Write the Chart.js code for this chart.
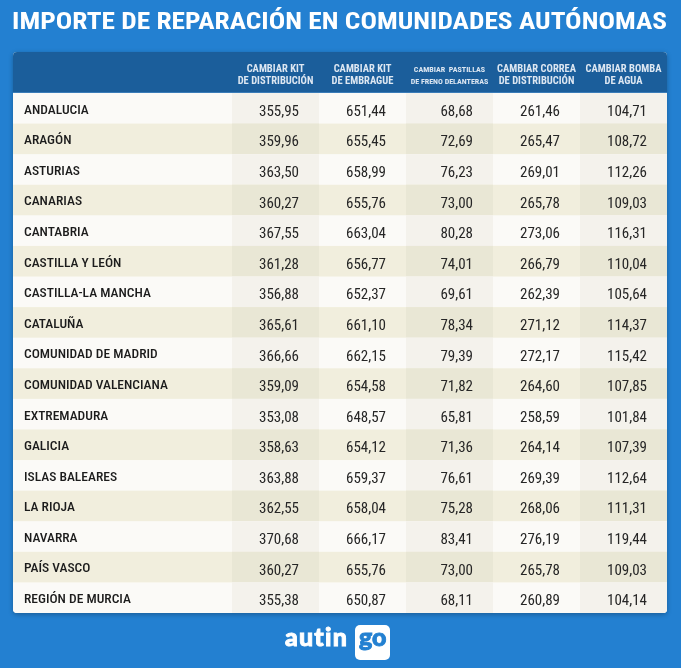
<!DOCTYPE html>
<html>
<head>
<meta charset="utf-8">
<script src="https://cdn.jsdelivr.net/npm/chart.js@4.4.1/dist/chart.umd.min.js"></script>
<style>
html,body{margin:0;padding:0;width:681px;height:668px;overflow:hidden;background:#2380d1;}
#title{position:absolute;left:12px;top:9.5px;font-family:'Roboto Condensed',Roboto,sans-serif;font-weight:700;font-size:23.5px;line-height:23.5px;color:#fff;white-space:nowrap;transform-origin:0 0;}
#c{position:absolute;left:0;top:0;}
#autin{position:absolute;left:285px;top:624px;font-family:'Lato Black',Lato,sans-serif;font-weight:900;font-size:25px;line-height:25px;letter-spacing:1.2px;color:#fff;white-space:nowrap;-webkit-text-stroke:0.9px #fff;}
#gobox{position:absolute;left:355px;top:625px;width:35px;height:35px;background:#fff;border-radius:5px;}
#go{position:absolute;left:4px;top:-1px;font-family:'Lato Black',Lato,sans-serif;font-weight:900;font-size:25px;line-height:25px;color:#2380d1;white-space:nowrap;-webkit-text-stroke:0.9px #2380d1;}
</style>
</head>
<body>
<canvas id="c" width="681" height="668"></canvas>
<div id="title">IMPORTE DE REPARACIÓN EN COMUNIDADES AUTÓNOMAS</div>
<div id="autin">autin</div>
<div id="gobox"><span id="go">go</span></div>
<script>
// ---- data ----
const regions = ['ANDALUCIA','ARAGÓN','ASTURIAS','CANARIAS','CANTABRIA','CASTILLA Y LEÓN','CASTILLA-LA MANCHA','CATALUÑA','COMUNIDAD DE MADRID','COMUNIDAD VALENCIANA','EXTREMADURA','GALICIA','ISLAS BALEARES','LA RIOJA','NAVARRA','PAÍS VASCO','REGIÓN DE MURCIA'];
const columnHeaders = [
  ['CAMBIAR KIT','DE DISTRIBUCIÓN'],
  ['CAMBIAR KIT','DE EMBRAGUE'],
  ['CAMBIAR  PASTILLAS','DE FRENO DELANTERAS'],
  ['CAMBIAR CORREA','DE DISTRIBUCIÓN'],
  ['CAMBIAR BOMBA','DE AGUA']
];
const kitDistribucion = [355.95,359.96,363.50,360.27,367.55,361.28,356.88,365.61,366.66,359.09,353.08,358.63,363.88,362.55,370.68,360.27,355.38];
const kitEmbrague = [651.44,655.45,658.99,655.76,663.04,656.77,652.37,661.10,662.15,654.58,648.57,654.12,659.37,658.04,666.17,655.76,650.87];
const pastillasFreno = [68.68,72.69,76.23,73.00,80.28,74.01,69.61,78.34,79.39,71.82,65.81,71.36,76.61,75.28,83.41,73.00,68.11];
const correaDistribucion = [261.46,265.47,269.01,265.78,273.06,266.79,262.39,271.12,272.17,264.60,258.59,264.14,269.39,268.06,276.19,265.78,260.89];
const bombaAgua = [104.71,108.72,112.26,109.03,116.31,110.04,105.64,114.37,115.42,107.85,101.84,107.39,112.64,111.31,119.44,109.03,104.14];
const series = [kitDistribucion, kitEmbrague, pastillasFreno, correaDistribucion, bombaAgua];

const FAM = "'Roboto Condensed', Roboto, sans-serif";
function fmt(v){ return v.toFixed(2).replace('.', ','); }

function rr(ctx, x, y, w, h, rt, rb){
  ctx.beginPath();
  ctx.moveTo(x+rt, y);
  ctx.lineTo(x+w-rt, y);
  ctx.quadraticCurveTo(x+w, y, x+w, y+rt);
  ctx.lineTo(x+w, y+h-rb);
  ctx.quadraticCurveTo(x+w, y+h, x+w-rb, y+h);
  ctx.lineTo(x+rb, y+h);
  ctx.quadraticCurveTo(x, y+h, x, y+h-rb);
  ctx.lineTo(x, y+rt);
  ctx.quadraticCurveTo(x, y, x+rt, y);
  ctx.closePath();
}

const tablePlugin = {
  id: 'tableCells',
  beforeDraw(chart){
    const {ctx, chartArea, scales:{x, y}} = chart;
    const n = regions.length;
    const rowH = (chartArea.bottom - chartArea.top) / n;
    const colW = (chartArea.right - chartArea.left) / columnHeaders.length;
    const left = y.left - 11, right = chartArea.right;
    const headTop = x.top, bottom = chartArea.bottom;
    ctx.save();
    ctx.shadowColor = 'rgba(0,0,0,0.28)';
    ctx.shadowBlur = 5;
    ctx.shadowOffsetY = 1.5;
    rr(ctx, left, headTop, right-left, bottom-headTop, 4, 4);
    ctx.fillStyle = '#fbfaf6';
    ctx.fill();
    ctx.restore();
    ctx.save();
    rr(ctx, left, headTop, right-left, bottom-headTop, 4, 4);
    ctx.clip();
    ctx.fillStyle = '#1b5e9b';
    ctx.fillRect(left, headTop, right-left, x.bottom - headTop);
    ctx.fillStyle = '#3a7cb8';
    ctx.fillRect(left, x.bottom - 1, right-left, 1);
    for (let r = 0; r < n; r++){
      const yc = y.getPixelForValue(r);
      const y0 = yc - rowH/2;
      ctx.fillStyle = (r % 2 === 0) ? '#fbfaf7' : '#f1eedd';
      ctx.fillRect(left, y0, right-left, rowH + 0.5);
      for (let c = 0; c < columnHeaders.length; c++){
        if (c % 2 === 0){
          const xc = x.getPixelForValue(c);
          ctx.fillStyle = (r % 2 === 0) ? '#f4f2ec' : '#e9e7d5';
          ctx.fillRect(xc - colW/2, y0, colW, rowH + 0.5);
        }
      }
    }
    ctx.restore();
  },
  afterDraw(chart){
    const {ctx, chartArea, scales:{x, y}} = chart;
    const colW = (chartArea.right - chartArea.left) / columnHeaders.length;
    ctx.save();
    ctx.fillStyle = '#262626';
    ctx.font = '400 15px ' + FAM;
    ctx.textAlign = 'right';
    ctx.textBaseline = 'alphabetic';
    series.forEach((vals, c) => {
      const xr = x.getPixelForValue(c) + colW/2 - 20;
      vals.forEach((v, r) => {
        const yc = y.getPixelForValue(r);
        ctx.fillText(fmt(v), xr, yc + 7.5);
      });
    });
    ctx.restore();
  }
};

new Chart(document.getElementById('c'), {
  type: 'bar',
  data: { labels: columnHeaders, datasets: [] },
  options: {
    responsive: false,
    animation: false,
    devicePixelRatio: 1,
    layout: { padding: { left: 24, right: 14, top: 52, bottom: 55 } },
    plugins: { legend: { display: false }, tooltip: { enabled: false }, title: { display: false } },
    scales: {
      x: {
        type: 'category',
        position: 'top',
        offset: true,
        grid: { display: false, drawTicks: false },
        border: { display: false },
        ticks: {
          color: '#dde7f2',
          padding: 5,
          maxRotation: 0,
          minRotation: 0,
          autoSkip: false,
          font: (c) => ({ family: FAM, weight: 'bold', size: c.index === 2 ? 8 : 10.5, lineHeight: '12.3px' })
        },
        afterFit(s){ s.height = 41; }
      },
      y: {
        type: 'category',
        labels: regions,
        position: 'left',
        offset: true,
        grid: { display: false, drawTicks: false },
        border: { display: false },
        ticks: {
          color: '#1c1c1c',
          crossAlign: 'far',
          autoSkip: false,
          labelOffset: 2,
          font: { family: FAM, weight: '500', size: 13.5 }
        },
        afterFit(s){ s.width = 208; }
      }
    }
  },
  plugins: [tablePlugin]
});

function fitTitle(){
  const t = document.getElementById('title');
  t.style.transform = 'none';
  const w = t.getBoundingClientRect().width;
  t.style.transform = 'scaleX(' + (655 / w) + ')';
}
fitTitle();
if (document.fonts && document.fonts.ready) document.fonts.ready.then(fitTitle);
</script>
</body>
</html>
